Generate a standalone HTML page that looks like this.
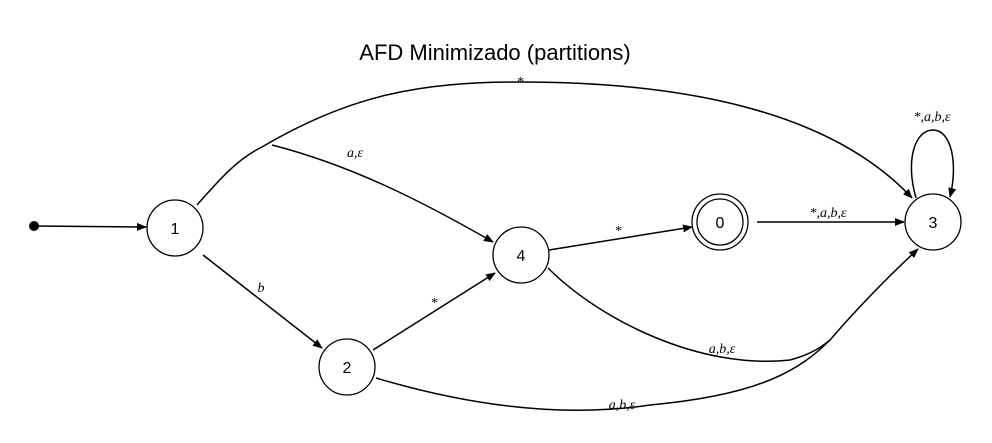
<!DOCTYPE html>
<html><head><meta charset="utf-8"><style>
html,body{margin:0;padding:0;background:#fff;}
svg{display:block;}
text{font-family:"Liberation Serif",serif;}
</style></head><body>
<svg id="g" width="992" height="443" viewBox="0 0 992 443">
<defs><marker id="ah" markerWidth="10" markerHeight="8" refX="9" refY="4" orient="auto" markerUnits="userSpaceOnUse"><path d="M0,0 L10,4 L0,8 z" fill="#000"/></marker></defs>
<text x="495" y="60" text-anchor="middle" font-size="22" style="font-family:'Liberation Sans',sans-serif">AFD Minimizado (partitions)</text>
</svg>
<script>
const nodeIds=['1','2','4','0','3'];
const nodeX=[175,347,521,720,933];
const nodeY=[228,367,255,222,222];
const accepting=[false,false,false,true,false];
const edgeLabels=['*','a,ε','b','*','*','*,a,b,ε','a,b,ε','a,b,ε','*,a,b,ε'];
const svg=document.getElementById('g');
const NS='http://www.w3.org/2000/svg';
function mk(tag,attrs,parent){const e=document.createElementNS(NS,tag);for(const k in attrs)e.setAttribute(k,attrs[k]);(parent||svg).appendChild(e);return e;}
const edges=[
 {d:'M197,205 C215,185 235,160 262,147 C350,95 420,82 520,82 C680,82 830,110 912,198',lx:520,ly:86,l:0,n:'edge-1-3',a:true},
 {d:'M272,145 C350,165 420,200 493,242',lx:355,ly:157,l:1,n:'edge-1-4',a:true},
 {d:'M203,255 L322,348',lx:261,ly:292,l:2,n:'edge-1-2',a:true},
 {d:'M373,350 L495,273',lx:434,ly:307,l:3,n:'edge-2-4',a:true},
 {d:'M549,250 L692,227',lx:618,ly:235,l:4,n:'edge-4-0',a:true},
 {d:'M757,222 L904,222',lx:828,ly:217,l:5,n:'edge-0-3',a:true},
 {d:'M548,268 C600,320 700,370 790,360 C812,354 823,346 830,340',lx:722,ly:353,l:6,n:'edge-4-3',a:false},
 {d:'M376,378 C450,400 550,420 650,405 C760,395 800,370 830,340 C860,305 890,275 918,249',lx:622,ly:409,l:7,n:'edge-2-3',a:true},
 {d:'M916,198 C905,160 915,130 933,130 C952,130 958,165 950,197',lx:932,ly:121,l:8,n:'self-loop-3',a:true}
];
edges.forEach(e=>{
 const attrs={d:e.d,fill:'none',stroke:'#000','stroke-width':1.5};
 if(e.a)attrs['marker-end']='url(#ah)';
 const p=mk('path',attrs);
 
 
 const t=mk('text',{x:e.lx,y:e.ly,'text-anchor':'middle','font-size':14,'font-style':'italic'});
 t.textContent=edgeLabels[e.l];
 
 
});
mk('circle',{cx:34,cy:226,r:5,fill:'#000'});
const s=mk('path',{d:'M34,226 L146,227',stroke:'#000','stroke-width':1.5,'marker-end':'url(#ah)',fill:'none'});


nodeIds.forEach((id,i)=>{
 const g=mk('g',{});
 
 
 mk('circle',{cx:nodeX[i],cy:nodeY[i],r:28,fill:'#fff',stroke:'#000','stroke-width':1.3},g);
 if(accepting[i])mk('circle',{cx:nodeX[i],cy:nodeY[i],r:23,fill:'none',stroke:'#000','stroke-width':1.3},g);
 const t=mk('text',{x:nodeX[i],y:nodeY[i]+6,'text-anchor':'middle','font-size':16,style:"font-family:'Liberation Sans',sans-serif"},g);
 t.textContent=id;
});
</script>
</body></html>
